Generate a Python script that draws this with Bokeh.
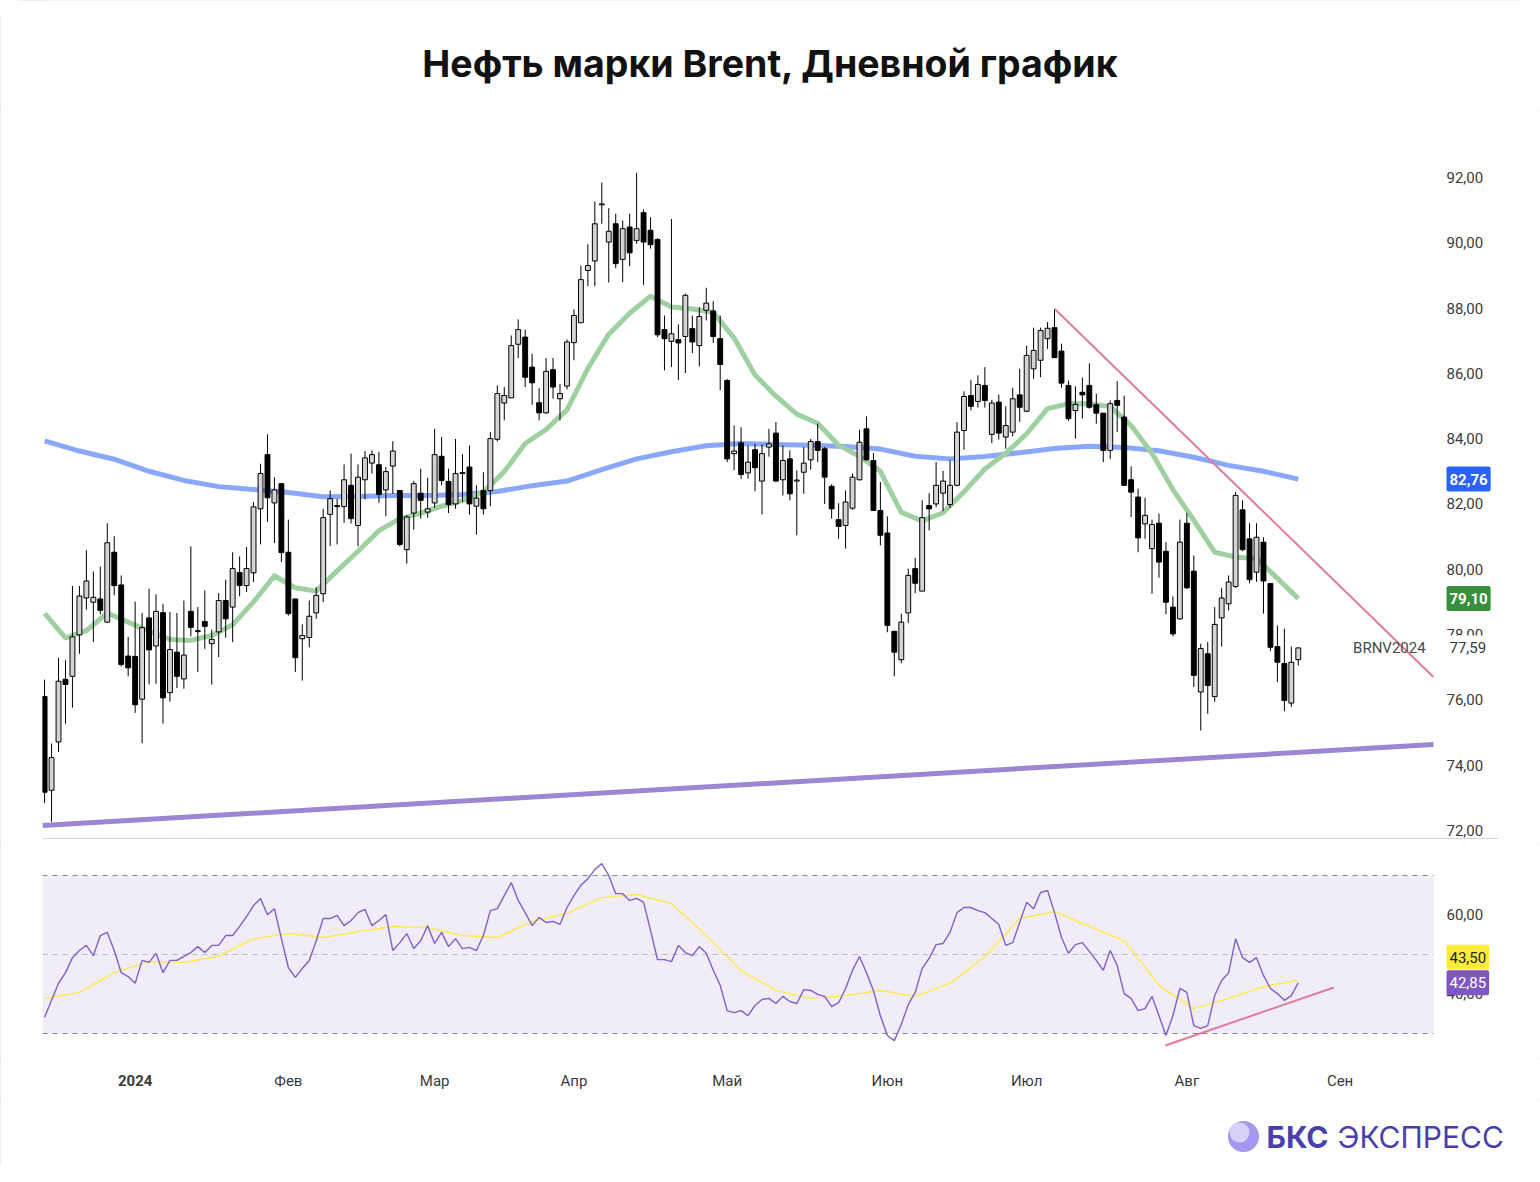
from bokeh.plotting import figure
from bokeh.layouts import column
from bokeh.models import Range1d, BoxAnnotation, Label
from bokeh.core.properties import value
from bokeh.embed import file_html
from bokeh.resources import INLINE

TITLE = "Нефть марки Brent, Дневной график"
TICKER = "BRNV2024"

opens = [76.10, 73.23, 74.71, 76.63, 76.72, 77.99, 79.12, 78.99, 79.09, 78.38,
         80.52, 79.52, 77.34, 77.33, 76.02, 78.51, 77.65, 78.67, 76.22, 77.46,
         76.64, 78.71, 78.09, 78.40, 77.72, 78.08, 79.04, 78.84, 79.90, 79.50,
         79.89, 81.85, 83.51, 82.03, 82.62, 80.52, 79.09, 77.87, 77.91, 78.66,
         79.25, 81.68, 81.92, 81.92, 82.57, 81.34, 82.74, 83.25, 83.20, 82.43,
         83.16, 82.41, 80.60, 81.72, 82.33, 81.75, 82.03, 83.46, 82.69, 82.00,
         82.93, 83.13, 81.93, 82.41, 82.41, 83.98, 85.09, 85.25, 86.89, 87.11,
         86.19, 85.10, 84.79, 86.11, 85.22, 85.61, 86.94, 87.55, 89.15, 89.44,
         91.16, 90.02, 90.58, 89.49, 90.48, 90.07, 90.92, 90.38, 90.10, 87.34,
         86.98, 87.03, 87.13, 87.37, 86.85, 87.93, 87.91, 87.06, 85.78, 83.54,
         83.87, 82.95, 83.66, 82.70, 83.74, 84.17, 82.74, 83.38, 82.70, 82.97,
         83.35, 83.91, 83.69, 82.54, 81.52, 81.34, 81.87, 82.74, 84.30, 83.33,
         81.80, 81.11, 78.10, 77.23, 78.66, 80.02, 79.33, 81.95, 82.00, 82.33,
         81.98, 82.57, 84.25, 85.32, 85.14, 85.63, 84.13, 85.12, 84.05, 84.20,
         85.34, 84.84, 86.14, 86.40, 87.06, 87.40, 86.68, 85.63, 84.86, 85.42,
         85.63, 85.04, 84.78, 83.64, 85.17, 84.66, 82.74, 82.21, 81.39, 80.63,
         81.41, 80.55, 78.84, 78.48, 81.41, 79.94, 76.24, 77.41, 76.10, 78.51,
         78.94, 79.47, 81.82, 80.93, 79.91, 80.83, 79.56, 77.63, 77.11, 75.90,
         77.23]
highs = [76.62, 74.66, 77.29, 77.21, 79.49, 79.49, 80.58, 79.93, 80.08, 81.41,
         81.01, 79.81, 77.93, 79.01, 78.66, 79.40, 79.23, 78.94, 78.69, 78.66,
         79.04, 80.70, 78.84, 79.35, 78.15, 79.27, 79.68, 80.52, 80.39, 80.68,
         82.06, 83.23, 84.13, 82.82, 82.62, 81.52, 79.09, 78.31, 79.04, 79.45,
         81.85, 82.41, 82.16, 83.21, 83.54, 83.21, 83.62, 83.64, 83.59, 83.13,
         83.92, 82.43, 81.65, 82.70, 83.08, 82.80, 84.30, 84.05, 83.08, 83.99,
         83.52, 83.79, 82.57, 82.97, 84.20, 85.63, 85.58, 87.16, 87.65, 87.34,
         86.60, 85.55, 86.47, 86.47, 85.68, 87.04, 87.96, 89.30, 89.95, 91.26,
         91.84, 91.06, 90.89, 90.68, 90.89, 92.14, 91.02, 90.78, 90.14, 87.77,
         90.73, 87.50, 88.44, 87.77, 88.03, 88.62, 88.21, 87.77, 85.83, 84.40,
         84.35, 83.79, 83.84, 83.82, 84.30, 84.51, 83.79, 83.64, 83.03, 83.74,
         83.99, 84.46, 83.74, 82.60, 82.02, 82.41, 82.93, 84.27, 84.68, 83.56,
         82.67, 81.62, 78.10, 78.64, 80.02, 80.35, 82.11, 82.33, 83.28, 83.01,
         83.33, 84.51, 85.45, 85.80, 85.94, 86.19, 85.19, 85.35, 84.99, 85.56,
         86.14, 86.85, 87.40, 87.40, 87.57, 87.98, 86.91, 85.78, 85.60, 85.87,
         86.31, 85.38, 84.78, 85.17, 85.76, 85.32, 83.15, 82.47, 82.19, 81.52,
         81.70, 80.83, 79.17, 81.52, 81.72, 80.42, 77.72, 77.77, 78.84, 79.43,
         79.81, 82.36, 82.11, 81.41, 81.41, 80.98, 79.57, 78.28, 78.18, 77.63,
         77.60]
lows = [72.84, 72.26, 74.40, 75.27, 75.76, 77.41, 78.76, 77.77, 78.62, 78.35,
        79.20, 77.02, 76.72, 75.60, 74.67, 76.47, 76.49, 75.27, 75.94, 76.36,
        76.34, 77.94, 76.85, 77.56, 76.47, 77.31, 77.90, 77.77, 79.17, 79.30,
        79.61, 80.76, 81.45, 80.80, 80.22, 78.58, 76.85, 76.59, 77.61, 78.48,
        78.99, 80.71, 80.76, 81.42, 81.40, 80.70, 82.14, 82.93, 82.03, 81.62,
        82.31, 80.70, 80.17, 81.21, 81.55, 81.58, 81.88, 82.57, 81.72, 81.85,
        82.06, 81.67, 81.06, 81.67, 81.93, 83.91, 84.56, 85.24, 86.47, 85.58,
        85.04, 84.56, 84.76, 85.22, 84.56, 85.51, 86.40, 87.55, 88.67, 88.67,
        90.58, 88.78, 89.22, 88.79, 89.28, 89.97, 88.71, 89.82, 87.11, 86.09,
        86.19, 85.80, 86.01, 86.62, 86.21, 87.62, 86.93, 85.48, 83.28, 83.03,
        82.77, 82.77, 82.39, 81.68, 83.45, 82.67, 82.26, 82.11, 81.04, 82.31,
        83.05, 83.28, 82.00, 81.55, 80.93, 80.63, 81.82, 82.72, 83.33, 81.78,
        80.73, 78.07, 76.72, 77.12, 78.35, 79.27, 79.33, 81.19, 81.90, 81.78,
        81.88, 82.54, 83.66, 84.86, 84.95, 84.95, 83.86, 83.97, 83.69, 84.07,
        84.51, 84.81, 85.83, 85.88, 86.75, 86.48, 85.56, 84.54, 84.00, 84.61,
        84.92, 84.46, 83.28, 83.38, 84.20, 82.57, 81.60, 80.52, 80.93, 79.25,
        79.74, 78.62, 77.94, 78.45, 79.40, 76.39, 75.06, 75.57, 75.94, 77.63,
        78.74, 79.43, 80.55, 79.57, 79.61, 78.64, 77.49, 76.54, 75.65, 75.78,
        77.05]
closes = [73.17, 74.23, 76.57, 76.47, 77.93, 79.18, 79.64, 79.14, 78.74, 80.81,
          79.50, 77.08, 76.98, 75.85, 78.21, 77.53, 78.71, 76.06, 77.54, 76.72,
          77.37, 78.22, 78.12, 78.25, 77.85, 79.04, 78.48, 80.02, 79.50, 80.02,
          81.91, 82.93, 82.19, 82.43, 80.51, 78.64, 77.29, 77.97, 78.56, 79.20,
          81.58, 82.16, 81.95, 82.74, 81.55, 82.82, 83.41, 83.51, 82.29, 82.99,
          83.62, 80.76, 81.60, 82.62, 82.11, 81.85, 83.51, 82.72, 81.98, 82.93,
          82.96, 82.00, 82.18, 81.85, 84.00, 85.38, 85.32, 86.85, 87.34, 85.88,
          85.71, 84.79, 86.06, 85.58, 85.38, 86.96, 87.77, 88.87, 89.30, 90.58,
          91.19, 90.35, 89.36, 90.43, 89.69, 90.43, 90.02, 89.94, 87.18, 87.06,
          87.21, 86.93, 88.39, 86.96, 87.74, 88.15, 87.13, 86.27, 83.38, 83.62,
          82.90, 83.28, 83.11, 83.54, 83.84, 82.70, 83.33, 82.31, 82.73, 83.25,
          83.91, 83.64, 82.82, 81.85, 81.31, 82.06, 82.82, 83.89, 83.35, 81.80,
          81.04, 78.28, 77.46, 78.38, 79.81, 79.57, 81.58, 81.85, 82.57, 82.70,
          82.57, 84.20, 85.29, 84.99, 85.66, 85.17, 85.09, 84.17, 84.40, 85.22,
          84.96, 86.55, 86.70, 87.31, 87.38, 86.48, 85.70, 84.61, 85.05, 85.34,
          84.96, 84.78, 83.64, 85.07, 85.02, 82.57, 82.36, 80.96, 81.65, 81.37,
          80.22, 78.99, 78.02, 80.83, 79.43, 76.75, 77.57, 76.44, 78.31, 79.12,
          79.61, 82.26, 80.60, 79.68, 80.98, 79.64, 77.61, 77.15, 75.98, 77.15,
          77.59]

# short moving average (green), read every 3 bars
EMA_STEP = 3
ema_green = [78.65, 77.9, 78.12, 78.66, 78.38, 78.1, 77.85, 77.82, 77.97, 78.3,
             79.0, 79.8, 79.43, 79.33, 79.95, 80.55, 81.18, 81.55, 81.72, 81.93,
             82.1, 82.37, 82.99, 83.85, 84.28, 84.88, 86.15, 87.2, 87.84, 88.36,
             88.03, 87.97, 87.87, 87.08, 85.95, 85.3, 84.75, 84.47, 83.8, 83.46,
             83.0, 81.74, 81.48, 81.73, 82.37, 83.07, 83.55, 84.15, 84.92, 85.07,
             85.07, 84.98, 84.4, 83.55, 82.44, 81.5, 80.52, 80.37, 80.33, 79.72,
             79.10]
# long moving average (blue), read every 5 bars
SMA_STEP = 5
sma_blue = [83.93, 83.62, 83.37, 83.0, 82.72, 82.53, 82.44, 82.35, 82.22, 82.23,
            82.26, 82.26, 82.29, 82.38, 82.56, 82.7, 83.05, 83.38, 83.6, 83.78,
            83.85, 83.82, 83.8, 83.76, 83.68, 83.46, 83.38, 83.45, 83.57, 83.7,
            83.77, 83.73, 83.63, 83.43, 83.18, 83.0, 82.76]

rsi = [34.1, 38.4, 42.7, 45.4, 49.2, 51.0, 52.3, 49.7, 54.8, 55.6,
       51.0, 45.4, 44.4, 42.7, 48.5, 48.0, 50.3, 45.4, 48.5, 48.5,
       49.5, 50.5, 52.0, 50.5, 52.3, 52.3, 54.8, 54.8, 57.1, 59.6,
       62.4, 64.2, 60.1, 61.6, 54.0, 46.7, 44.2, 46.5, 48.5, 53.5,
       59.1, 59.1, 59.9, 57.3, 58.6, 60.6, 61.4, 57.3, 58.6, 60.1,
       51.0, 53.0, 55.3, 51.5, 53.5, 57.3, 52.8, 55.6, 52.0, 54.0,
       51.5, 51.8, 51.0, 54.8, 61.1, 61.6, 64.9, 68.2, 63.7, 60.6,
       57.3, 59.4, 58.1, 58.4, 57.6, 61.9, 64.9, 67.5, 69.2, 71.5,
       73.0, 70.0, 65.4, 65.4, 63.7, 64.2, 63.2, 56.1, 48.7, 48.7,
       48.2, 52.3, 50.5, 49.7, 52.0, 50.3, 46.0, 42.2, 35.8, 35.3,
       35.8, 34.5, 37.1, 38.6, 38.9, 37.6, 39.4, 38.1, 37.6, 41.1,
       40.9, 39.9, 39.4, 36.8, 37.8, 41.4, 46.0, 49.5, 45.4, 40.9,
       34.5, 29.5, 28.2, 32.3, 37.3, 40.4, 46.5, 49.0, 52.5, 52.8,
       55.6, 60.6, 61.9, 61.9, 61.1, 60.6, 59.1, 57.6, 52.3, 53.0,
       58.1, 63.2, 61.6, 65.7, 66.2, 60.6, 54.3, 50.3, 52.5, 53.0,
       50.8, 48.5, 46.0, 51.0, 47.2, 40.1, 38.9, 35.8, 36.3, 39.4,
       34.5, 29.5, 34.5, 41.4, 40.4, 32.0, 31.3, 32.0, 39.6, 43.4,
       45.4, 54.0, 49.2, 48.0, 49.2, 44.7, 41.4, 40.1, 38.4, 39.6,
       42.85]
RSI_MA_STEP = 5
rsi_ma = [38.9, 40.4, 45.4, 48.2, 48.0, 49.5, 54.0, 55.3, 54.3, 55.8,
          57.1, 56.8, 54.8, 54.3, 58.4, 60.4, 64.4, 65.2, 62.9, 54.8,
          45.9, 40.9, 38.9, 39.6, 40.9, 39.4, 42.7, 49.5, 59.1, 60.9,
          57.1, 53.5, 42.2, 36.3, 38.9, 41.9, 43.5]
rsi_levels = [70, 50, 30]

# drawn trend lines (bar index, value)
res_x = [145, 199.4]
res_y = [87.98, 76.7]
sup_x = [-0.3, 199.4]
sup_y = [72.15, 74.63]
rsi_tl_x = [160.9, 185.1]
rsi_tl_y = [26.96, 41.65]

month_names = ["2024", "Фев", "Мар", "Апр", "Май", "Июн", "Июл", "Авг", "Сен"]
month_pos = [13, 35, 56, 76, 98, 121, 141, 164, 186]

price_ticks = [72, 74, 76, 78, 80, 82, 84, 86, 88, 90, 92]
rsi_ticks = [40, 60]

W = 1540
LEFT = 42
PX_PER_BAR = 6.965
PX_PER_USD = 32.65
X0 = -0.3                                  # bar at left frame edge
X1 = X0 + (W - LEFT) / PX_PER_BAR          # bar at right canvas edge
PANE_END = 199.4                           # right end of the chart panes
AXIS_X = X0 + (1446 - LEFT) / PX_PER_BAR   # price-scale text column
SEP_END = X0 + (1498 - LEFT) / PX_PER_BAR  # end of the pane separator
AXIS_FONT = "Roboto"
TXT = "#3a3a3a"

MAIN_H = 733
Y_TOP = 94.05
Y_BOT = Y_TOP - MAIN_H / PX_PER_USD
SEP_Y = Y_BOT + 5 / PX_PER_USD

n = len(closes)
idx = list(range(n))
x_range = Range1d(X0, X1)


def f2(v):
    return f"{v:.2f}".replace(".", ",")


def bare(height, xr, yr):
    p = figure(width=W, height=height, x_range=xr, y_range=yr,
               x_axis_type=None, y_axis_type=None, toolbar_location=None,
               output_backend="svg", min_border_left=LEFT, min_border_right=0,
               min_border_top=0, min_border_bottom=0)
    p.outline_line_color = None
    p.background_fill_color = "white"
    p.border_fill_color = "white"
    return p


def scale_text(p, ticks):
    p.text(x=[AXIS_X] * len(ticks), y=ticks, text=[f2(t) for t in ticks],
           text_align="left", text_baseline="middle", text_font=value(AXIS_FONT),
           text_font_size="15px", text_color=TXT)


def tag(p, y, text, bg, fg, bold=False, yoff=0):
    p.add_layout(Label(x=AXIS_X, y=y, text=text, text_align="left", text_baseline="middle",
                       text_font=AXIS_FONT, text_font_size="15px", text_color=fg,
                       text_font_style="bold" if bold else "normal",
                       background_fill_color=bg, background_fill_alpha=1.0,
                       padding=(3, 7), border_radius=2, y_offset=yoff))


# ---------- header ----------
head = bare(110, Range1d(LEFT, W), Range1d(0, 110))
head.text(x=[W / 2], y=[47], text=[TITLE], text_align="center", text_baseline="middle",
          text_font=value("Inter"), text_font_size="37.5px", text_font_style="bold",
          text_color="#111111")

# ---------- main price pane ----------
main = bare(MAIN_H, x_range, Range1d(Y_BOT, Y_TOP))
main.line([X0, SEP_END], [SEP_Y, SEP_Y], line_color="#d6d6de", line_width=1.2)
scale_text(main, price_ticks)

main.line(sup_x, sup_y, line_color="#9b86d3", line_width=5)
main.line(list(range(0, n, SMA_STEP)), sma_blue, line_color="#8aa8fb", line_width=5,
          line_join="round")
main.line(list(range(0, n, EMA_STEP)), ema_green, line_color="#9fd0a1", line_width=5,
          line_join="round")

main.segment(x0=idx, y0=lows, x1=idx, y1=highs, line_color="black", line_width=1)
up_i = [i for i in idx if closes[i] >= opens[i]]
dn_i = [i for i in idx if closes[i] < opens[i]]
main.vbar(x=up_i, width=0.7, top=[closes[i] for i in up_i], bottom=[opens[i] for i in up_i],
          fill_color="#d4d4d8", line_color="black", line_width=1)
main.vbar(x=dn_i, width=0.7, top=[opens[i] for i in dn_i], bottom=[closes[i] for i in dn_i],
          fill_color="black", line_color="black", line_width=1)

main.line(res_x, res_y, line_color="#e07b9c", line_width=2)

main.text(x=[AXIS_X - 3], y=[closes[-1]], text=[TICKER], text_align="right",
          text_baseline="middle", text_font=value(AXIS_FONT), text_font_size="15px",
          text_color="#4a4a4a")
tag(main, sma_blue[-1], f2(sma_blue[-1]), "#2962ff", "white", True)
tag(main, ema_green[-1], f2(ema_green[-1]), "#388e3c", "white", True)
tag(main, closes[-1], f2(closes[-1]), "white", TXT)

# ---------- RSI pane ----------
rp = bare(215, x_range, Range1d(23.67, 78.1))
rp.add_layout(BoxAnnotation(right=PANE_END, bottom=30, top=70, fill_color="#f0ecf8",
                            fill_alpha=1.0, line_color=None, level="underlay"))
rp.segment(x0=[X0] * 3, x1=[PANE_END] * 3, y0=rsi_levels, y1=rsi_levels,
           line_color=["#85868f", "#b8b9c2", "#85868f"], line_dash="5 5", line_width=1.2)
scale_text(rp, rsi_ticks)
rp.line(list(range(0, n, RSI_MA_STEP)), rsi_ma, line_color="#ffe94a", line_width=1.4,
        line_join="round")
rp.line(idx, rsi, line_color="#8060c8", line_width=1.4)
rp.line(rsi_tl_x, rsi_tl_y, line_color="#e07b9c", line_width=2)
tag(rp, rsi_ma[-1], f2(rsi_ma[-1]), "#ffeb3b", "#222222", yoff=23)
tag(rp, rsi[-1], f2(rsi[-1]), "#7e57c2", "white")

# ---------- month strip ----------
ms = bare(42, x_range, Range1d(0, 42))
ms.text(x=month_pos[:1], y=[20], text=month_names[:1], text_align="center",
        text_baseline="middle", text_font=value(AXIS_FONT), text_font_size="15px",
        text_font_style="bold", text_color=TXT)
ms.text(x=month_pos[1:], y=[20] * (len(month_pos) - 1), text=month_names[1:],
        text_align="center", text_baseline="middle", text_font=value(AXIS_FONT),
        text_font_size="15px", text_color=TXT)

# ---------- footer ----------
ft = bare(82, Range1d(LEFT, W), Range1d(0, 82))
ft.scatter(x=[1243], y=[46], size=31, marker="circle", fill_color="#a497ef", line_color=None)
ft.scatter(x=[1239], y=[50], size=20, marker="circle", fill_color="#d7d1fa", line_color=None)
ft.text(x=[1266], y=[46], text=["БКС"], text_align="left", text_baseline="middle",
        text_font=value("Inter"), text_font_size="30px", text_font_style="bold",
        text_color="#4b3faa")
ft.text(x=[1337], y=[46], text=["ЭКСПРЕСС"], text_align="left", text_baseline="middle",
        text_font=value("Inter"), text_font_size="30px", text_color="#4b3faa")

layout = column(head, main, rp, ms, ft, spacing=0,
                styles={"outline": "2px solid #e6e6e8", "outline-offset": "-2px",
                        "border-radius": "22px"})
open("out.html", "w").write(file_html(layout, INLINE))
